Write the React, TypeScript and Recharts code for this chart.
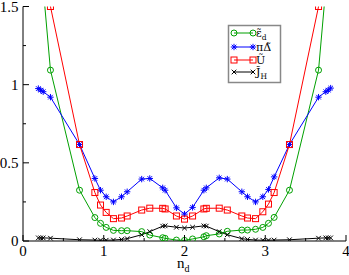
import React from 'react';
import { LineChart, Line, XAxis, YAxis } from 'recharts';

// n_d values (shared by all four series)
const nd = [0.19, 0.22, 0.25, 0.34, 0.70, 0.89, 0.96, 1.03, 1.12, 1.22, 1.29, 1.47, 1.57, 1.73, 1.76, 1.90, 2.00,
  2.10, 2.24, 2.27, 2.43, 2.53, 2.71, 2.78, 2.88, 2.97, 3.04, 3.11, 3.30, 3.66, 3.75, 3.78, 3.81];
// eps_d tilde (green circles)
const epsD = [2.0, 1.8, 1.62, 1.093, 0.325, 0.15, 0.113, 0.087, 0.068, 0.066, 0.066, 0.06, 0.038, 0.021, 0.017, 0.006, 0.004,
  0.013, 0.027, 0.034, 0.045, 0.062, 0.07, 0.07, 0.075, 0.087, 0.113, 0.151, 0.325, 1.093, 1.62, 1.8, 2.0];
// pi Delta tilde (blue stars)
const piDelta = [0.975, 0.965, 0.955, 0.92, 0.617, 0.40, 0.325, 0.283, 0.25, 0.283, 0.315, 0.396, 0.40, 0.34, 0.325, 0.212, 0.172,
  0.215, 0.325, 0.34, 0.404, 0.396, 0.315, 0.283, 0.25, 0.283, 0.33, 0.41, 0.617, 0.92, 0.955, 0.965, 0.978];
// U tilde (red squares)
const uVals = [2.0, 1.9, 1.8, 1.5, 0.617, 0.31, 0.23, 0.183, 0.143, 0.147, 0.16, 0.198, 0.21, 0.209, 0.205, 0.16, 0.14,
  0.16, 0.205, 0.209, 0.21, 0.198, 0.16, 0.147, 0.143, 0.187, 0.236, 0.31, 0.617, 1.5, 1.8, 1.9, 2.0];
// J_H tilde (black crosses)
const jH = [0.02, 0.02, 0.02, 0.018, 0.008, 0.006, 0.005, 0.005, 0.006, 0.01, 0.015, 0.04, 0.06, 0.095, 0.097, 0.088, 0.083,
  0.088, 0.097, 0.095, 0.06, 0.04, 0.015, 0.01, 0.006, 0.005, 0.005, 0.006, 0.008, 0.018, 0.02, 0.02, 0.02];

const xTicks = [0, 0.5, 1, 1.5, 2, 2.5, 3, 3.5, 4];
const yTicks = [0, 0.25, 0.5, 0.75, 1, 1.25, 1.5];

const data = nd.map((x, i) => ({ x, eps: epsD[i], pd: piDelta[i], u: uVals[i], jh: jH[i] }));

const FONT = '"Liberation Serif", "DejaVu Serif", serif';
const LFONT = '"DejaVu Serif", "Liberation Serif", serif';
const GREEN = '#00a000';
const BLUE = '#0000ff';
const RED = '#ff0000';
const BLACK = '#000000';

const isXMajor = (v: number) => Math.abs(v - Math.round(v)) < 1e-9;
const isYMajor = (v: number) => Math.abs(v * 2 - Math.round(v * 2)) < 1e-9;

const BottomTick = (p: any) => {
  const v = p.payload.value;
  const major = isXMajor(v);
  return (
    <g>
      <line x1={p.x} y1={p.y} x2={p.x} y2={p.y - (major ? 6 : 3)} stroke="#000" strokeWidth={1} />
      {major && (
        <text x={p.x} y={p.y + 15} textAnchor="middle" fontFamily={FONT} fontSize={15} fill="#000">{String(v)}</text>
      )}
    </g>
  );
};
const TopTick = (p: any) => {
  const v = p.payload.value;
  const major = isXMajor(v);
  return <line x1={p.x} y1={p.y} x2={p.x} y2={p.y + (major ? 6 : 3)} stroke="#000" strokeWidth={1} />;
};
const LeftTick = (p: any) => {
  const v = p.payload.value;
  const major = isYMajor(v);
  return (
    <g>
      <line x1={p.x} y1={p.y} x2={p.x + (major ? 6 : 3)} y2={p.y} stroke="#000" strokeWidth={1} />
      {major && (
        <text x={p.x - 4.5} y={p.y + 5} textAnchor="end" fontFamily={FONT} fontSize={15} fill="#000">{String(v)}</text>
      )}
    </g>
  );
};
const RightTick = (p: any) => {
  const v = p.payload.value;
  const major = isYMajor(v);
  return <line x1={p.x} y1={p.y} x2={p.x - (major ? 6 : 3)} y2={p.y} stroke="#000" strokeWidth={1} />;
};

const CircleMark = ({ cx, cy, c }: any) => <circle cx={cx} cy={cy} r={3} fill="none" stroke={c} strokeWidth={1} />;
const SquareMark = ({ cx, cy, c }: any) => <rect x={cx - 3} y={cy - 3} width={6} height={6} fill="none" stroke={c} strokeWidth={1} />;
const StarMark = ({ cx, cy, c }: any) => (
  <g stroke={c} strokeWidth={1}>
    <line x1={cx - 3.2} y1={cy} x2={cx + 3.2} y2={cy} />
    <line x1={cx} y1={cy - 3.2} x2={cx} y2={cy + 3.2} />
    <line x1={cx - 2.3} y1={cy - 2.3} x2={cx + 2.3} y2={cy + 2.3} />
    <line x1={cx - 2.3} y1={cy + 2.3} x2={cx + 2.3} y2={cy - 2.3} />
  </g>
);
const CrossMark = ({ cx, cy, c }: any) => (
  <g stroke={c} strokeWidth={1}>
    <line x1={cx - 2.3} y1={cy - 2.3} x2={cx + 2.3} y2={cy + 2.3} />
    <line x1={cx - 2.3} y1={cy + 2.3} x2={cx + 2.3} y2={cy - 2.3} />
  </g>
);

const mkDot = (Comp: any, c: string, name: string) => (p: any) => {
  if (p.cx == null || p.cy == null) return <g key={`${name}-${p.index}`} />;
  return (
    <g key={`${name}-${p.index}`}>
      <Comp cx={p.cx} cy={p.cy} c={c} />
    </g>
  );
};

const LX = 256;
const legendRows = [
  { y: 33, c: GREEN, M: CircleMark, main: 'ε\u0303', sub: 'd' },
  { y: 47, c: BLUE, M: StarMark, main: 'πΔ\u0303', sub: '' },
  { y: 60, c: RED, M: SquareMark, main: 'U\u0303', sub: '' },
  { y: 72, c: BLACK, M: CrossMark, main: 'J\u0303', sub: 'H' },
];

export default function App() {
  return (
    <div style={{ position: 'absolute', left: 0, top: 0, width: 349, height: 275, background: '#fff' }}>
      <LineChart width={349} height={275} data={data} margin={{ top: 6.5, right: 3, bottom: 0, left: 0 }}>
        <XAxis
          xAxisId="b"
          dataKey="x"
          type="number"
          domain={[0, 4]}
          ticks={xTicks}
          interval={0}
          allowDataOverflow
          height={34}
          tickSize={0}
          tickMargin={0}
          tickLine={false}
          tick={BottomTick}
          axisLine={{ stroke: '#000', strokeWidth: 1 }}
        />
        <XAxis
          xAxisId="t"
          dataKey="x"
          type="number"
          orientation="top"
          domain={[0, 4]}
          ticks={xTicks}
          interval={0}
          allowDataOverflow
          height={0}
          tickSize={0}
          tickMargin={0}
          tickLine={false}
          tick={TopTick}
          axisLine={{ stroke: '#000', strokeWidth: 1 }}
        />
        <YAxis
          yAxisId="l"
          type="number"
          domain={[0, 1.5]}
          ticks={yTicks}
          interval={0}
          allowDataOverflow
          width={23}
          tickSize={0}
          tickMargin={0}
          tickLine={false}
          tick={LeftTick}
          axisLine={{ stroke: '#000', strokeWidth: 1 }}
        />
        <YAxis
          yAxisId="r"
          type="number"
          orientation="right"
          domain={[0, 1.5]}
          ticks={yTicks}
          interval={0}
          allowDataOverflow
          width={0}
          tickSize={0}
          tickMargin={0}
          tickLine={false}
          tick={RightTick}
          axisLine={{ stroke: '#000', strokeWidth: 1 }}
        />
        <Line xAxisId="b" yAxisId="l" type="linear" dataKey="eps" stroke={GREEN} strokeWidth={1}
          dot={mkDot(CircleMark, GREEN, 'eps')} activeDot={false} isAnimationActive={false} />
        <Line xAxisId="b" yAxisId="l" type="linear" dataKey="pd" stroke={BLUE} strokeWidth={1}
          dot={mkDot(StarMark, BLUE, 'pd')} activeDot={false} isAnimationActive={false} />
        <Line xAxisId="b" yAxisId="l" type="linear" dataKey="u" stroke={RED} strokeWidth={1}
          dot={mkDot(SquareMark, RED, 'u')} activeDot={false} isAnimationActive={false} />
        <Line xAxisId="b" yAxisId="l" type="linear" dataKey="jh" stroke={BLACK} strokeWidth={1}
          dot={mkDot(CrossMark, BLACK, 'jh')} activeDot={false} isAnimationActive={false} />
      </LineChart>
      <svg width={349} height={275} style={{ position: 'absolute', left: 0, top: 0, pointerEvents: 'none' }}>
        <rect x={228.5} y={25.5} width={52} height={57} fill="#fff" stroke="#888" strokeWidth={1.5} />
        {legendRows.map((r) => (
          <g key={r.main}>
            <line x1={234} y1={r.y} x2={253} y2={r.y} stroke={r.c} strokeWidth={1} />
            <r.M cx={234} cy={r.y} c={r.c} />
            <r.M cx={253} cy={r.y} c={r.c} />
            <text x={LX} y={r.y + 4} fontFamily={LFONT} fontSize={11} fill="#000">
              {r.main}
              {r.sub && <tspan dy={2.5} fontSize={7.5}>{r.sub}</tspan>}
            </text>
          </g>
        ))}
        <text x={177} y={268} fontFamily={FONT} fontSize={15} fill="#000">
          n<tspan dy={4} fontSize={10}>d</tspan>
        </text>
      </svg>
    </div>
  );
}
